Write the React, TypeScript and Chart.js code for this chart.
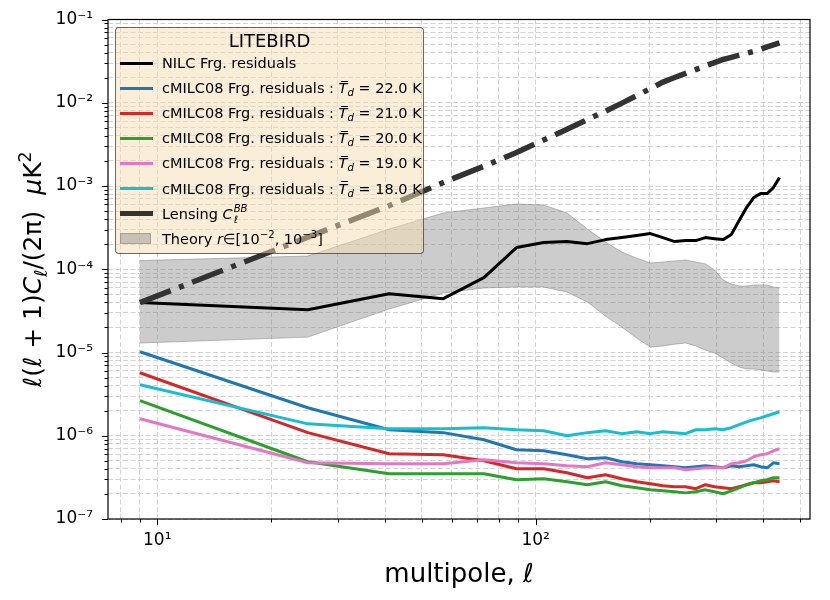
import { useEffect, useRef } from 'react';
import { Chart, registerables } from 'chart.js';

Chart.register(...registerables);

const FONT = "'DejaVu Sans', sans-serif";

// binned multipoles
const ells = [9, 25, 41, 57, 73, 89, 105, 121, 137, 153, 169, 185, 201, 217, 233, 249, 265, 281, 297, 313, 329, 345, 361, 377, 393, 409, 425, 441];

const nilc = [4.0e-5, 3.27e-5, 5.09e-5, 4.43e-5, 7.93e-5, 1.82e-4, 2.09e-4, 2.15e-4, 2.03e-4, 2.27e-4, 2.4e-4, 2.54e-4, 2.68e-4, 2.4e-4, 2.15e-4, 2.21e-4, 2.21e-4, 2.4e-4, 2.33e-4, 2.27e-4, 2.61e-4, 3.84e-4, 5.5e-4, 7.26e-4, 8.1e-4, 8.1e-4, 9.57e-4, 1.26e-3];
const cmilc22 = [1.02e-5, 2.17e-6, 1.18e-6, 1.09e-6, 8.95e-7, 6.79e-7, 6.6e-7, 5.91e-7, 5.29e-7, 5.44e-7, 4.87e-7, 4.61e-7, 4.48e-7, 4.36e-7, 4.24e-7, 4.12e-7, 4.24e-7, 4.36e-7, 4.24e-7, 4.12e-7, 4.36e-7, 4.24e-7, 4.36e-7, 4.48e-7, 4.24e-7, 4.12e-7, 4.73e-7, 4.61e-7];
const cmilc21 = [5.71e-6, 1.09e-6, 6.08e-7, 5.91e-7, 5.01e-7, 4.01e-7, 4.01e-7, 3.59e-7, 3.13e-7, 3.4e-7, 3.04e-7, 2.8e-7, 2.65e-7, 2.51e-7, 2.44e-7, 2.44e-7, 2.31e-7, 2.58e-7, 2.44e-7, 2.37e-7, 2.31e-7, 2.44e-7, 2.58e-7, 2.72e-7, 2.72e-7, 2.8e-7, 2.88e-7, 2.8e-7];
const cmilc20 = [2.64e-6, 4.87e-7, 3.49e-7, 3.49e-7, 3.49e-7, 2.96e-7, 3.04e-7, 2.8e-7, 2.58e-7, 2.8e-7, 2.51e-7, 2.37e-7, 2.24e-7, 2.18e-7, 2.12e-7, 2.06e-7, 2.12e-7, 2.24e-7, 2.12e-7, 2.01e-7, 2.18e-7, 2.37e-7, 2.58e-7, 2.72e-7, 2.88e-7, 2.96e-7, 3.13e-7, 3.13e-7];
const cmilc19 = [1.6e-6, 4.73e-7, 4.61e-7, 4.61e-7, 5.15e-7, 4.73e-7, 4.61e-7, 4.36e-7, 4.24e-7, 4.73e-7, 4.48e-7, 4.24e-7, 4.12e-7, 4.12e-7, 4.12e-7, 3.9e-7, 4.01e-7, 4.12e-7, 4.12e-7, 4.12e-7, 4.61e-7, 4.73e-7, 5.01e-7, 5.6e-7, 5.91e-7, 6.08e-7, 6.6e-7, 6.98e-7];
const cmilc18 = [4.1e-6, 1.39e-6, 1.21e-6, 1.21e-6, 1.25e-6, 1.18e-6, 1.15e-6, 1.0e-6, 1.09e-6, 1.15e-6, 1.06e-6, 1.12e-6, 1.06e-6, 1.12e-6, 1.09e-6, 1.06e-6, 1.18e-6, 1.18e-6, 1.21e-6, 1.18e-6, 1.25e-6, 1.36e-6, 1.47e-6, 1.56e-6, 1.64e-6, 1.74e-6, 1.84e-6, 1.94e-6];
const lensing = [3.97e-5, 2.43e-4, 5.8e-4, 1.1e-3, 1.73e-3, 2.52e-3, 3.57e-3, 4.8e-3, 6.28e-3, 7.94e-3, 9.9e-3, 1.22e-2, 1.48e-2, 1.77e-2, 2.01e-2, 2.25e-2, 2.5e-2, 2.78e-2, 3.04e-2, 3.31e-2, 3.51e-2, 3.73e-2, 3.93e-2, 4.15e-2, 4.4e-2, 4.7e-2, 4.97e-2, 5.25e-2];
const theoryLow = [1.3e-5, 1.53e-5, 3.33e-5, 5.19e-5, 5.96e-5, 6.12e-5, 6.12e-5, 5.33e-5, 4.04e-5, 2.74e-5, 2.02e-5, 1.49e-5, 1.16e-5, 1.2e-5, 1.26e-5, 1.3e-5, 1.2e-5, 1.07e-5, 9.86e-6, 8.59e-6, 7.48e-6, 6.7e-6, 6.34e-6, 6.34e-6, 6.17e-6, 6.0e-6, 5.83e-6, 5.83e-6];
const theoryHigh = [1.27e-4, 1.44e-4, 3.04e-4, 4.74e-4, 5.44e-4, 6.08e-4, 5.91e-4, 4.74e-4, 3.04e-4, 2.12e-4, 1.61e-4, 1.36e-4, 1.19e-4, 1.22e-4, 1.26e-4, 1.29e-4, 1.22e-4, 1.16e-4, 9.8e-5, 7.43e-5, 6.65e-5, 6.3e-5, 6.3e-5, 6.47e-5, 6.47e-5, 6.47e-5, 6.12e-5, 5.96e-5];

const xDecades = [10, 100];
const xDecadeLabels = ['10¹', '10²'];
const yDecades = [1e-7, 1e-6, 1e-5, 1e-4, 1e-3, 1e-2, 1e-1];
const yDecadeLabels = ['10⁻⁷', '10⁻⁶', '10⁻⁵', '10⁻⁴', '10⁻³', '10⁻²', '10⁻¹'];

const X_MIN = 7.41;
const X_MAX = 531;
const Y_MIN = 1e-7;
const Y_MAX = 1e-1;

function logTicks(min: number, max: number) {
  const out: number[] = [];
  for (let e = Math.floor(Math.log10(min)); e <= Math.ceil(Math.log10(max)); e++) {
    for (let k = 1; k <= 9; k++) {
      const v = k * Math.pow(10, e);
      if (v >= min * 0.9999 && v <= max * 1.0001) out.push(v);
    }
  }
  return out;
}

function decadeIndex(v: number, decades: number[]) {
  return decades.findIndex((d) => Math.abs(Math.log10(v) - Math.log10(d)) < 1e-6);
}

const pts = (vals: number[]) => ells.map((l, i) => ({ x: l, y: vals[i] }));

const framePlugin = {
  id: 'frame',
  afterDraw(chart: any) {
    const { ctx, chartArea: a, scales } = chart;
    ctx.save();
    ctx.strokeStyle = '#000';
    ctx.lineWidth = 1;
    for (const t of scales.x.ticks) {
      const px = Math.round(scales.x.getPixelForValue(t.value)) + 0.5;
      const len = decadeIndex(t.value, xDecades) >= 0 ? 6 : 3.5;
      ctx.beginPath();
      ctx.moveTo(px, a.bottom);
      ctx.lineTo(px, a.bottom + len);
      ctx.stroke();
    }
    for (const t of scales.y.ticks) {
      const py = Math.round(scales.y.getPixelForValue(t.value)) + 0.5;
      const len = decadeIndex(t.value, yDecades) >= 0 ? 6 : 3.5;
      ctx.beginPath();
      ctx.moveTo(a.left, py);
      ctx.lineTo(a.left - len, py);
      ctx.stroke();
    }
    ctx.lineWidth = 1.2;
    ctx.strokeRect(a.left, a.top, a.right - a.left, a.bottom - a.top);

    // y axis title with math parts
    const size = 25;
    const parts: [string, string, number, number][] = [
      ['ℓ(ℓ + 1)', '', 1, 0],
      ['C', 'italic ', 1, 0],
      ['ℓ', '', 0.7, 0.22],
      ['/(2π)  ', '', 1, 0],
      ['μ', 'italic ', 1, 0],
      ['K', '', 1, 0],
      ['2', '', 0.7, -0.42],
    ];
    let total = 0;
    const widths = parts.map(([t, st, s]) => {
      ctx.font = `${st}${size * s}px ${FONT}`;
      const w = ctx.measureText(t).width;
      total += w;
      return w;
    });
    ctx.translate(41, (a.top + a.bottom) / 2);
    ctx.rotate(-Math.PI / 2);
    ctx.fillStyle = '#000';
    ctx.textBaseline = 'alphabetic';
    let x = -total / 2;
    parts.forEach(([t, st, s, dy], i) => {
      ctx.font = `${st}${size * s}px ${FONT}`;
      ctx.fillText(t, x, dy * size);
      x += widths[i];
    });
    ctx.restore();
  },
};

const sup = (t: string) => (
  <span style={{ fontSize: '0.7em', position: 'relative', top: '-0.6em' }}>{t}</span>
);

function Td() {
  return (
    <>
      <span style={{ position: 'relative', fontStyle: 'italic' }}>
        T
        <span style={{ position: 'absolute', left: '0.2em', width: '0.45em', top: '0.05em', borderTop: '1.3px solid #000' }} />
      </span>
      <span style={{ fontStyle: 'italic', fontSize: '0.7em', position: 'relative', top: '0.3em' }}>d</span>
    </>
  );
}

const rowTemps = ['22.0', '21.0', '20.0', '19.0', '18.0'];
const rowColors = ['#1f77b4', '#d62728', '#2ca02c', '#e377c2', '#17becf'];

function Legend() {
  const row = (i: number, handle: any, label: any) => (
    <div
      key={i}
      style={{ position: 'absolute', left: 0, top: 35 + 25.1 * i - 12.5, height: 25, display: 'flex', alignItems: 'center', whiteSpace: 'nowrap' }}
    >
      <div style={{ width: 46, display: 'flex', justifyContent: 'flex-start', paddingLeft: 4, boxSizing: 'border-box' }}>{handle}</div>
      <span>{label}</span>
    </div>
  );
  const line = (c: string, h = 3) => <div style={{ width: 33, height: h, background: c }} />;
  return (
    <div
      style={{
        position: 'absolute',
        left: 115,
        top: 27,
        width: 309,
        height: 227,
        boxSizing: 'border-box',
        background: 'rgba(245,222,179,0.5)',
        border: '1px solid rgba(0,0,0,0.55)',
        borderRadius: 4,
        fontFamily: FONT,
        fontSize: 14.5,
        color: '#000',
      }}
    >
      <div style={{ position: 'absolute', left: 0, right: 0, top: 0, height: 25, lineHeight: '25px', textAlign: 'center', fontSize: 18 }}>LITEBIRD</div>
      {row(0, line('#000'), 'NILC Frg. residuals')}
      {rowTemps.map((t, k) =>
        row(
          k + 1,
          line(rowColors[k]),
          <>
            cMILC08 Frg. residuals : <Td /> = {t} K
          </>
        )
      )}
      {row(
        6,
        line('#333', 5),
        <>
          Lensing <span style={{ fontStyle: 'italic' }}>C</span>
          <span style={{ position: 'relative', display: 'inline-block', fontSize: '0.7em', fontStyle: 'italic', marginLeft: 1 }}>
            <span style={{ position: 'relative', top: '-0.7em' }}>BB</span>
            <span style={{ position: 'absolute', left: 0, top: '0.45em' }}>ℓ</span>
          </span>
        </>
      )}
      {row(
        7,
        <div style={{ width: 31, height: 11, background: 'rgba(128,128,128,0.4)', border: '1px solid rgba(128,128,128,0.5)', boxSizing: 'border-box' }} />,
        <>
          Theory <span style={{ fontStyle: 'italic' }}>r</span>∈[10{sup('−2')}, 10{sup('−3')}]
        </>
      )}
    </div>
  );
}

export default function App() {
  const canvasRef = useRef<HTMLCanvasElement>(null);
  const chartRef = useRef<Chart | null>(null);

  useEffect(() => {
    if (!canvasRef.current) return;
    chartRef.current?.destroy();
    Chart.defaults.font.family = FONT;

    const xTicks = logTicks(X_MIN, X_MAX);
    const yTicks = logTicks(Y_MIN, Y_MAX);
    const lineDs = (data: number[], color: string, order: number, width = 3) => ({
      data: pts(data),
      borderColor: color,
      borderWidth: width,
      borderJoinStyle: 'round' as const,
      fill: false,
      order,
    });

    chartRef.current = new Chart(canvasRef.current, {
      type: 'line',
      data: {
        datasets: [
          lineDs(nilc, '#000000', 6),
          lineDs(cmilc22, '#1f77b4', 5),
          lineDs(cmilc21, '#d62728', 4),
          lineDs(cmilc20, '#2ca02c', 3),
          lineDs(cmilc19, '#e377c2', 2),
          lineDs(cmilc18, '#17becf', 1),
          {
            data: pts(lensing),
            borderColor: '#333333',
            borderWidth: 5.5,
            borderDash: [33, 9, 5, 9],
            borderCapStyle: 'butt',
            fill: false,
            order: 0,
          },
          {
            data: pts(theoryLow),
            borderColor: 'rgba(128,128,128,0.5)',
            borderWidth: 1,
            fill: false,
            order: 10,
          },
          {
            data: pts(theoryHigh),
            borderColor: 'rgba(128,128,128,0.5)',
            backgroundColor: 'rgba(128,128,128,0.4)',
            borderWidth: 1,
            fill: '-1',
            order: 11,
          },
        ] as any,
      },
      options: {
        animation: false,
        responsive: false,
        events: [],
        layout: { padding: { left: 0, right: 20, top: 19.5, bottom: 0 } },
        elements: { point: { radius: 0 }, line: { tension: 0 } },
        plugins: { legend: { display: false }, tooltip: { enabled: false } },
        scales: {
          x: {
            type: 'logarithmic',
            min: X_MIN,
            max: X_MAX,
            bounds: 'data',
            afterBuildTicks: (s: any) => {
              s.ticks = xTicks.map((v) => ({ value: v }));
            },
            afterFit: (s: any) => {
              s.height = 81;
              s.paddingLeft = 0;
              s.paddingRight = 0;
            },
            ticks: {
              autoSkip: false,
              maxRotation: 0,
              padding: 11,
              color: '#000',
              font: { size: 17 },
              callback: (v: any) => {
                const i = decadeIndex(Number(v), xDecades);
                return i >= 0 ? xDecadeLabels[i] : '';
              },
            },
            grid: { color: '#d2d2d2', lineWidth: 1, drawTicks: false },
            border: { display: false, dash: [5, 2.5] },
            title: {
              display: true,
              text: 'multipole, ℓ',
              color: '#000',
              font: { size: 26 },
              padding: { top: 0, bottom: 9 },
            },
          },
          y: {
            type: 'logarithmic',
            min: Y_MIN,
            max: Y_MAX,
            bounds: 'data',
            afterBuildTicks: (s: any) => {
              s.ticks = yTicks.map((v) => ({ value: v }));
            },
            afterFit: (s: any) => {
              s.width = 108;
              s.paddingTop = 0;
              s.paddingBottom = 0;
            },
            ticks: {
              autoSkip: false,
              padding: 15,
              color: '#000',
              font: { size: 17 },
              callback: (v: any) => {
                const i = decadeIndex(Number(v), yDecades);
                return i >= 0 ? yDecadeLabels[i] : '';
              },
            },
            grid: { color: '#d2d2d2', lineWidth: 1, drawTicks: false },
            border: { display: false, dash: [5, 2.5] },
          },
        },
      } as any,
      plugins: [framePlugin],
    });

    return () => {
      chartRef.current?.destroy();
      chartRef.current = null;
    };
  }, []);

  return (
    <div style={{ position: 'absolute', left: 0, top: 0, width: 830, height: 600, background: '#fff' }}>
      <canvas ref={canvasRef} width={830} height={600} style={{ display: 'block' }} />
      <Legend />
    </div>
  );
}
